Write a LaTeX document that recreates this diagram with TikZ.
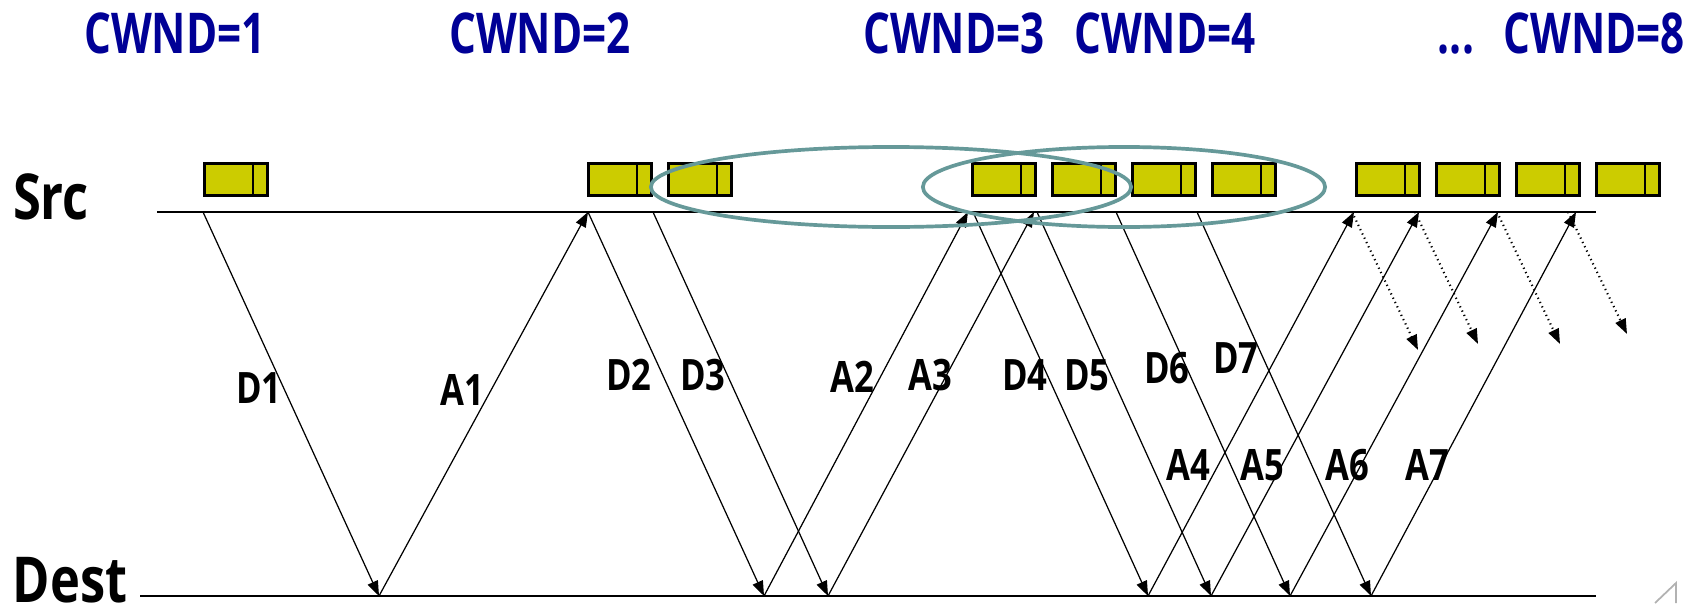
\documentclass[tikz,border=0pt]{standalone}
\usepackage{fontspec}
\usetikzlibrary{arrows.meta}
\newfontfamily\condsans[FakeStretch=0.8]{Open Sans}
\newfontfamily\narrowsans[FakeStretch=0.75]{Open Sans}
\definecolor{cwndblue}{RGB}{0,0,150}
\definecolor{pktfill}{RGB}{204,204,0}
\definecolor{winring}{RGB}{102,153,153}

\begin{document}
\begin{tikzpicture}[x=0.01cm,y=-0.01cm,
  timeline/.style={line width=0.6pt},
  msg/.style={line width=0.35pt,-{Triangle[length=0.15cm,width=0.11cm]}},
  nextmsg/.style={msg, densely dotted, line width=0.6pt},
  pkt/.style={draw, line width=0.6pt, fill=pktfill, inner sep=0,
              minimum width=0.63cm, minimum height=0.32cm},
  winlabel/.style={font=\narrowsans\bfseries\fontsize{16}{18}\selectfont,
                   text=cwndblue, anchor=base, inner sep=0},
  hostlabel/.style={font=\condsans\bfseries\fontsize{18}{20}\selectfont,
                    anchor=base, inner sep=0},
  msglabel/.style={font=\condsans\bfseries\fontsize{12.3}{14}\selectfont,
                   anchor=base, inner sep=0},
  window/.style={draw=winring, line width=1.05pt},
  corner/.style={draw=gray!60, line width=0.5pt}
]
\useasboundingbox (0,0) rectangle (1700,603);

% window size captions
\node[winlabel] (w1) at (175,53) {CWND=1};
\node[winlabel] (w2) at (540,53) {CWND=2};
\node[winlabel] (w3) at (954,53) {CWND=3};
\node[winlabel] (w4) at (1165,53) {CWND=4};
\node[winlabel] (wdots) at (1456,53) {...};
\node[winlabel] (w8) at (1594,53) {CWND=8};

% hosts and their time lines
\node[hostlabel] (src) at (51,219) {Src};
\node[hostlabel] (dst) at (70,602) {Dest};
\coordinate (srcA) at (157,212);
\coordinate (srcB) at (1596,212);
\coordinate (dstA) at (140,596);
\coordinate (dstB) at (1596,596);
\draw[timeline] (srcA) -- (srcB);
\draw[timeline] (dstA) -- (dstB);

% packets queued at the sender
\foreach \x [count=\i] in {204,588,668,972,1052,1132,1212,1356,1436,1516,1596} {
  \node[pkt] (p\i) at (\x+32,179.5) {};
  \draw[line width=0.6pt] ([xshift=-0.155cm]p\i.north east) -- ([xshift=-0.155cm]p\i.south east);
}

% send / arrival points on the two time lines
\coordinate (s1) at (203,212);
\coordinate (s2) at (588,212);
\coordinate (s3) at (653,212);
\coordinate (s4) at (973,212);
\coordinate (s5) at (1037,212);
\coordinate (s6) at (1116,212);
\coordinate (s7) at (1197,212);
\coordinate (r1) at (379,596);
\coordinate (r2) at (764,596);
\coordinate (r3) at (828,596);
\coordinate (r4) at (1148,596);
\coordinate (r5) at (1211,596);
\coordinate (r6) at (1290,596);
\coordinate (r7) at (1371,596);
\coordinate (k2) at (968,212);
\coordinate (k3) at (1034,212);
\coordinate (k4) at (1354,212);
\coordinate (k5) at (1419,212);
\coordinate (k6) at (1498,212);
\coordinate (k7) at (1576,212);

% data segments
\draw[msg] (s1) -- (r1);
\draw[msg] (s2) -- (r2);
\draw[msg] (s3) -- (r3);
\draw[msg] (s4) -- (r4);
\draw[msg] (s5) -- (r5);
\draw[msg] (s6) -- (r6);
\draw[msg] (s7) -- (r7);

% acknowledgements
\draw[msg] (r1) -- (s2);
\draw[msg] (r2) -- (k2);
\draw[msg] (r3) -- (k3);
\draw[msg] (r4) -- (k4);
\draw[msg] (r5) -- (k5);
\draw[msg] (r6) -- (k6);
\draw[msg] (r7) -- (k7);

% further segments released by the acks
\coordinate (n1s) at (1352,212);
\coordinate (n1e) at (1418,350);
\coordinate (n2s) at (1415,212);
\coordinate (n2e) at (1478,344);
\coordinate (n3s) at (1497,212);
\coordinate (n3e) at (1560,344);
\coordinate (n4s) at (1568,212);
\coordinate (n4e) at (1627,334);
\draw[nextmsg] (n1s) -- (n1e);
\draw[nextmsg] (n2s) -- (n2e);
\draw[nextmsg] (n3s) -- (n3e);
\draw[nextmsg] (n4s) -- (n4e);

% segment labels
\node[msglabel] (lD1) at (259,403) {D1};
\node[msglabel] (lA1) at (462,405) {A1};
\node[msglabel] (lD2) at (629,390) {D2};
\node[msglabel] (lD3) at (703,390) {D3};
\node[msglabel] (lA2) at (852,392) {A2};
\node[msglabel] (lA3) at (930,390) {A3};
\node[msglabel] (lD4) at (1025,390) {D4};
\node[msglabel] (lD5) at (1087,390) {D5};
\node[msglabel] (lD6) at (1167,383) {D6};
\node[msglabel] (lD7) at (1236,373) {D7};
\node[msglabel] (lA4) at (1188,480) {A4};
\node[msglabel] (lA5) at (1262,480) {A5};
\node[msglabel] (lA6) at (1347,480) {A6};
\node[msglabel] (lA7) at (1427,480) {A7};

% window outlines
\draw[window] (891,187) ellipse [x radius=2.40cm, y radius=0.40cm];
\draw[window] (1124,187) ellipse [x radius=2.01cm, y radius=0.40cm];

% corner mark
\draw[corner] (1655,603) -- (1676,583) -- (1676,603);
\end{tikzpicture}
\end{document}
